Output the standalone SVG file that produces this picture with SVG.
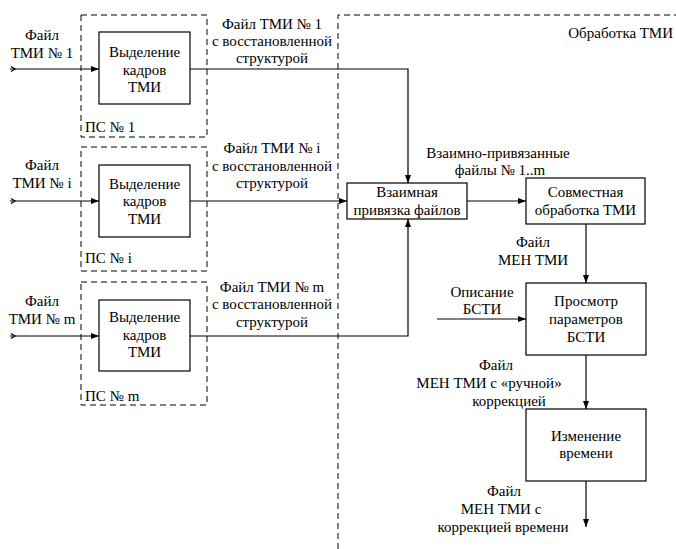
<svg xmlns="http://www.w3.org/2000/svg" width="676" height="549" viewBox="0 0 676 549">
<style>
text{font-family:"Liberation Serif","Times New Roman",serif;font-size:15px;fill:#000}
.c{text-anchor:middle}
.box{fill:#fff;stroke:#000;stroke-width:1.2}
.dash{fill:none;stroke:#000;stroke-width:1;stroke-dasharray:6,4}
.ln{fill:none;stroke:#000;stroke-width:1.2}
</style>
<defs>
<marker id="ah" markerWidth="8" markerHeight="6" refX="8" refY="3" orient="auto" markerUnits="userSpaceOnUse">
<path d="M0,0 L8,3 L0,6 Z" fill="#000"/>
</marker>
</defs>
<rect width="676" height="549" fill="#fff"/>
<g id="ps1">
<rect class="dash" x="81" y="15" width="126" height="122"/>
<rect class="box" x="99" y="32" width="91" height="72"/>
<text class="c" x="144.5" y="57">Выделение</text>
<text class="c" x="144.5" y="75">кадров</text>
<text class="c" x="144.5" y="92">ТМИ</text>
<text x="85" y="132">ПС № 1</text>
<text class="c" x="42" y="40">Файл</text>
<text class="c" x="42" y="58">ТМИ № 1</text>
<text class="c" x="272" y="29">Файл ТМИ № 1</text>
<text class="c" x="272" y="46">с восстановленной</text>
<text class="c" x="272" y="63">структурой</text>
</g>
<g id="psi">
<rect class="dash" x="81" y="147" width="126" height="124"/>
<rect class="box" x="99" y="165" width="91" height="72"/>
<text class="c" x="144.5" y="189">Выделение</text>
<text class="c" x="144.5" y="206">кадров</text>
<text class="c" x="144.5" y="224">ТМИ</text>
<text x="85" y="263">ПС № i</text>
<text class="c" x="42" y="170">Файл</text>
<text class="c" x="42" y="188">ТМИ № i</text>
<text class="c" x="272" y="153">Файл ТМИ № i</text>
<text class="c" x="272" y="171">с восстановленной</text>
<text class="c" x="272" y="188">структурой</text>
</g>
<g id="psm">
<rect class="dash" x="81" y="282" width="126" height="123"/>
<rect class="box" x="99" y="300" width="91" height="71"/>
<text class="c" x="144.5" y="322">Выделение</text>
<text class="c" x="144.5" y="340">кадров</text>
<text class="c" x="144.5" y="357">ТМИ</text>
<text x="85" y="401">ПС № m</text>
<text class="c" x="42" y="306">Файл</text>
<text class="c" x="42" y="324">ТМИ № m</text>
<text class="c" x="272" y="292">Файл ТМИ № m</text>
<text class="c" x="272" y="309">с восстановленной</text>
<text class="c" x="272" y="327">структурой</text>
</g>
<g id="processing">
<path class="dash" d="M338,549 L338,15 L676,15"/>
<text x="673" y="38" text-anchor="end">Обработка ТМИ</text>
</g>
<g id="link">
<rect class="box" x="347" y="183" width="120" height="36"/>
<text class="c" x="407" y="197">Взаимная</text>
<text class="c" x="407" y="215">привязка файлов</text>
</g>
<g id="joint">
<rect class="box" x="526" y="178" width="119" height="46"/>
<text class="c" x="585.5" y="197">Совместная</text>
<text class="c" x="585.5" y="215">обработка ТМИ</text>
</g>
<g id="view">
<rect class="box" x="526" y="283" width="120" height="72"/>
<text class="c" x="586" y="306">Просмотр</text>
<text class="c" x="586" y="324">параметров</text>
<text class="c" x="586" y="342">БСТИ</text>
</g>
<g id="time">
<rect class="box" x="526" y="409" width="120" height="72"/>
<text class="c" x="586" y="441">Изменение</text>
<text class="c" x="586" y="458">времени</text>
</g>
<g id="labels">
<text class="c" x="498" y="158">Взаимно-привязанные</text>
<text class="c" x="500" y="175">файлы № 1..m</text>
<text class="c" x="533" y="247">Файл</text>
<text class="c" x="533" y="265">МЕН ТМИ</text>
<text class="c" x="482" y="297">Описание</text>
<text class="c" x="482" y="314">БСТИ</text>
<text class="c" x="496" y="370">Файл</text>
<text class="c" x="489" y="388">МЕН ТМИ с «ручной»</text>
<text class="c" x="509" y="406">коррекцией</text>
<text class="c" x="504" y="496">Файл</text>
<text class="c" x="501" y="514">МЕН ТМИ с</text>
<text class="c" x="503" y="532">коррекцией времени</text>
</g>
<g id="connectors">
<path class="ln" d="M10,69 L99,69" marker-end="url(#ah)"/>
<path class="ln" d="M10,201 L99,201" marker-end="url(#ah)"/>
<path class="ln" d="M10,336 L99,336" marker-end="url(#ah)"/>
<path class="ln" d="M11,66.5 L15,69 L11,71.5"/>
<path class="ln" d="M11,198.5 L15,201 L11,203.5"/>
<path class="ln" d="M11,333.5 L15,336 L11,338.5"/>
<path class="ln" d="M190,69 L408,69 L408,183" marker-end="url(#ah)"/>
<path class="ln" d="M190,201 L347,201" marker-end="url(#ah)"/>
<path class="ln" d="M190,336 L408,336 L408,219" marker-end="url(#ah)"/>
<path class="ln" d="M467,201 L526,201" marker-end="url(#ah)"/>
<path class="ln" d="M586,224 L586,283" marker-end="url(#ah)"/>
<path class="ln" d="M437,319 L526,319" marker-end="url(#ah)"/>
<path class="ln" d="M586,355 L586,409" marker-end="url(#ah)"/>
<path class="ln" d="M586,481 L586,527" marker-end="url(#ah)"/>
</g>
</svg>
